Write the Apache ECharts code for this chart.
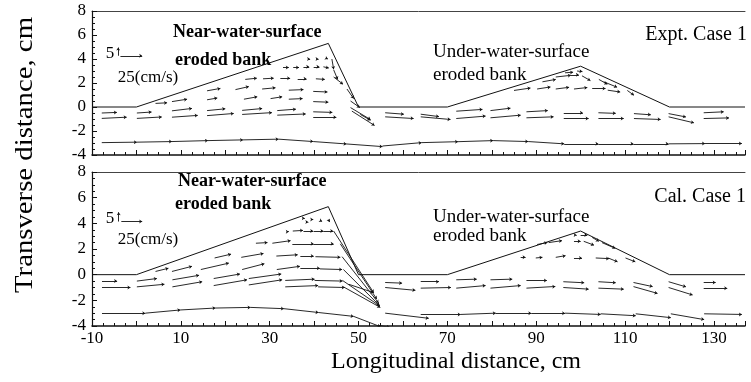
<!DOCTYPE html>
<html>
<head>
<meta charset="utf-8">
<script src="https://cdn.jsdelivr.net/npm/echarts/dist/echarts.min.js"></script>
<style>
html, body { margin: 0; padding: 0; background: #fff; }
#chart { width: 751px; height: 382px; }
</style>
</head>
<body>
<div id="chart"></div>
<script>
// bank outline (cm), same in both panels
const bankX = [-10, 0, 43.2, 50, 70, 100, 120, 137];
const bankY = [0, 0, 5.3, 0, 0, 3.4, 0, 0];

const yTicks = [-4, -2, 0, 2, 4, 6, 8];
const xTickLabels = [-10, 10, 30, 50, 70, 90, 110, 130];

// vectors: [x, y, dx, dy] in plot units (start point + arrow length)
// --- Expt. Case 1 ---
const exptNearBank = [
    [-7.8, -0.95, 5.6, 0.1], [0.1, -0.95, 5.6, 0.12], [8.0, -0.85, 5.8, 0.15], [15.9, -0.72, 6.0, 0.18],
    [23.8, -0.62, 6.7, 0.15], [31.7, -0.68, 6.4, 0.1], [39.8, -0.85, 5.2, 0.0],
    [-7.8, -0.5, 3.4, 0.05], [0.1, -0.5, 3.3, 0.08], [8.0, -0.32, 4.5, 0.2], [15.9, -0.3, 4.1, 0.15],
    [23.8, -0.28, 4.5, 0.15], [31.7, -0.3, 4.2, 0.12], [39.8, -0.4, 4.3, -0.05],
    [4.3, 0.3, 2.6, 0.05], [8.0, 0.45, 3.4, 0.2], [15.9, 0.6, 2.3, 0.15], [24.2, 0.65, 3.0, 0.2],
    [30.2, 0.7, 2.6, 0.15], [34.3, 0.65, 3.1, 0.05], [39.8, 0.45, 3.4, -0.05],
    [15.9, 1.35, 3.0, 0.2], [22.3, 1.45, 3.0, 0.25], [28.3, 1.5, 3.0, 0.1], [34.3, 1.4, 3.3, 0.05], [39.8, 1.3, 3.2, -0.05],
    [24.5, 2.3, 2.6, 0.1], [28.5, 2.35, 2.4, 0.05], [32.4, 2.4, 2.2, 0.0], [36.3, 2.35, 2.0, 0.0], [40.4, 2.35, 2.0, -0.05],
    [33.0, 3.3, 1.3, 0.0], [35.3, 3.3, 1.3, 0.0], [37.6, 3.35, 1.3, 0.0], [39.9, 3.35, 1.3, 0.0], [42.1, 3.35, 1.2, -0.1],
    [38.8, 4.0, 0.3, 0.0], [40.7, 4.0, 0.3, 0.0], [42.8, 4.05, 0.3, -0.05],
    [44.0, 4.0, 0.4, -0.85], [44.4, 3.1, 0.9, -0.8], [44.4, 2.5, 2.1, -0.6], [47.4, 1.5, 1.5, -0.8],
    [48.2, 0.5, 2.1, -0.55], [48.2, -0.05, 4.5, -1.0], [48.5, -0.34, 5.1, -1.2], [50.4, -0.62, 2.3, -0.48]
];
const exptUnderBank = [
    [56, -0.48, 4.2, -0.12], [64, -0.6, 4.1, -0.2], [72, -0.35, 5.9, 0.15], [79.7, -0.3, 4.5, 0.2], [87.8, -0.4, 4.8, 0.1],
    [96.2, -0.48, 4.3, 0.0], [104, -0.48, 3.9, -0.05], [112, -0.55, 3.8, -0.1], [119.8, -0.55, 3.9, -0.28], [127.7, -0.48, 4.5, 0.08],
    [56, -0.82, 6.4, -0.14], [64, -0.82, 6.7, -0.22], [72, -0.96, 6.6, 0.2], [79.7, -0.9, 6.8, 0.22], [87.8, -0.9, 6.1, 0.08],
    [96.2, -0.96, 5.6, 0.0], [104, -0.96, 5.7, 0.0], [112, -0.96, 6.0, -0.08], [119.8, -0.82, 5.7, -0.5], [127.7, -0.96, 5.7, 0.05],
    [85, 1.38, 3.7, 0.2], [90.2, 1.5, 3.0, 0.17], [94.4, 1.5, 3.0, 0.14], [98.5, 1.5, 3.0, 0.12], [102.6, 1.55, 3.0, 0.0],
    [106.1, 1.4, 2.8, -0.15], [110.5, 1.38, 1.5, -0.4],
    [91.4, 2.1, 3.0, 0.2], [94.4, 2.5, 3.4, 0.14], [97.8, 2.68, 1.8, 0.0], [100.3, 2.6, 1.9, -0.4],
    [104.1, 2.3, 1.9, -0.4], [105.2, 2.1, 3.0, -0.45],
    [96.5, 2.85, 1.8, 0.05], [99.2, 3.0, 1.2, -0.05]
];
const exptBottomRow = [
    [-7.8, -2.97, 7.9, 0.04], [0.1, -2.93, 7.9, 0.05], [8.0, -2.88, 8.1, 0.08], [16.1, -2.8, 7.9, 0.06],
    [24.0, -2.74, 8.0, 0.06], [32.0, -2.68, 7.8, -0.2], [39.8, -2.88, 7.5, -0.2], [47.3, -3.08, 8.1, -0.22],
    [55.4, -3.25, 8.8, 0.28], [64.2, -2.97, 8.2, 0.08], [72.4, -2.89, 7.9, 0.09], [80.3, -2.8, 7.9, -0.08],
    [88.2, -2.88, 8.1, -0.19], [96.3, -3.07, 7.7, 0.0], [104, -3.07, 7.9, 0.0], [111.9, -3.07, 7.9, 0.0],
    [119.8, -3.07, 8.2, 0.02], [128, -3.05, 8.3, 0.0]
];

// --- Cal. Case 1 ---
const calNearBank = [
    [-7.75, -0.5, 3.4, 0.0], [-7.75, -1.0, 6.4, 0.0], [0.1, -0.5, 4.5, 0.2], [0.1, -0.95, 6.2, 0.2],
    [4.3, 0.25, 2.9, 0.25], [8.0, 0.25, 4.5, 0.4], [8.1, -0.4, 6.0, 0.35], [8.1, -0.95, 6.7, 0.4],
    [17.6, 1.3, 3.7, 0.3], [14.5, 0.4, 6.3, 0.5], [17.4, -0.3, 5.9, 0.35], [17.4, -0.85, 7.5, 0.45],
    [23.6, 1.35, 5.0, 0.3], [23.8, 0.4, 5.0, 0.45], [25.3, -0.3, 7.3, 0.35], [25.3, -0.8, 7.5, 0.4],
    [26.9, 2.45, 2.6, 0.05], [30.6, 2.45, 4.1, 0.2],
    [31.5, 1.45, 4.8, 0.1], [31.6, 0.4, 5.2, 0.25], [33.5, -0.45, 6.6, 0.1], [33.5, -0.95, 7.4, 0.1],
    [34.0, 3.35, 0.3, 0.0], [35.2, 3.4, 2.3, 0.05], [37.6, 3.4, 2.2, 0.0], [39.9, 3.4, 2.2, 0.0], [42.1, 3.4, 2.2, 0.0],
    [35.1, 2.4, 4.8, 0.0], [39.9, 2.4, 4.5, 0.0], [36.9, 1.45, 3.0, 0.0], [40.3, 1.4, 5.6, -0.05],
    [36.9, 0.5, 4.4, 0.0], [41.3, 0.45, 5.0, -0.05], [40.1, -0.45, 6.3, -0.05], [40.9, -0.95, 6.0, -0.05],
    [37.6, 4.4, 0.3, 0.0], [39.5, 4.3, 0.3, 0.0], [41.5, 4.2, 0.3, -0.05], [43.2, 4.3, 0.3, -0.2], [38.5, 4.1, 0.2, 0.0],
    [44.4, 3.4, 9.0, -4.8], [45.9, 2.4, 8.2, -4.3], [46.3, 1.4, 8.2, -3.6], [46.6, 0.4, 8.1, -2.8],
    [46.4, -0.45, 8.4, -2.0], [46.6, -0.95, 8.3, -1.6], [47.8, -0.75, 5.6, -0.65]
];
const calUnderBank = [
    [56, -0.61, 3.8, -0.05], [64, -0.55, 4.1, 0.0], [72, -0.4, 4.6, 0.05], [79.7, -0.4, 4.9, 0.05], [87.8, -0.45, 4.6, 0.0],
    [96.1, -0.55, 4.7, -0.08], [104, -0.55, 3.9, -0.08], [111.9, -0.61, 4.3, -0.32], [119.8, -0.55, 3.9, -0.4], [127.7, -0.61, 2.7, 0.0],
    [56, -1.0, 6.8, -0.22], [64, -1.05, 6.8, 0.05], [72, -1.05, 6.6, 0.2], [79.7, -1.05, 6.8, 0.2], [87.8, -1.05, 6.5, 0.13],
    [96.1, -1.0, 5.7, -0.13], [104, -1.05, 5.7, -0.08], [111.9, -0.93, 5.4, -0.53], [119.8, -1.0, 5.4, -0.58], [127.7, -1.05, 5.3, 0.0],
    [86.5, 1.35, 1.1, 0.0], [89.9, 1.3, 1.5, 0.05], [94.4, 1.35, 2.2, 0.13], [98.5, 1.3, 1.8, 0.0], [103.4, 1.3, 3.0, -0.05],
    [106.2, 1.3, 2.1, -0.3], [110.1, 1.3, 2.2, -0.3],
    [90.2, 2.35, 2.3, 0.15], [92.8, 2.5, 3.0, 0.15], [98.5, 2.6, 1.5, 0.0], [100.7, 2.6, 2.3, -0.3], [104.8, 2.5, 3.0, -0.45],
    [98.9, 3.1, 0.2, 0.0], [100.0, 3.1, 1.5, 0.0], [102.6, 2.9, 1.5, -0.3]
];
const calBottomRow = [
    [-7.75, -3.0, 9.75, 0.0], [2.0, -3.0, 7.9, 0.25], [9.9, -2.75, 7.9, 0.15], [17.8, -2.6, 7.9, 0.05],
    [25.7, -2.55, 7.5, -0.1], [33.2, -2.65, 7.8, -0.3], [41.0, -2.95, 7.9, -0.3], [48.9, -3.25, 6.0, -0.8],
    [54.5, -3.95, 2.5, -0.15],
    [56, -3.0, 9.8, -0.4], [64, -3.1, 9.0, 0.0], [73, -3.1, 7.9, 0.1], [80.9, -3.0, 8.0, 0.0], [88.9, -3.0, 7.6, 0.0],
    [96.5, -3.0, 8.0, -0.1], [104.5, -3.05, 7.9, -0.15], [112.4, -3.05, 7.9, -0.3], [120.3, -3.05, 7.5, -0.45],
    [127.8, -3.05, 8.5, -0.05]
];

// reference arrows of the key (25 cm/s along x, 5 cm/s across)
const exptScale = [[-3.6, 4.27, 4.9, 0.0], [-4.1, 4.27, 0.0, 0.68]];
const calScale = [[-3.4, 4.14, 4.7, 0.0], [-4.0, 4.14, 0.0, 0.72]];

const SERIF = '"Liberation Serif", "DejaVu Serif", serif';
const INK = '#111';

function toLines(vecs) {
    return vecs.map(v => ({ coords: [[v[0], v[1]], [v[0] + v[2], v[1] + v[3]]] }));
}

function vectorSeries(vecs, gi) {
    return {
        type: 'lines',
        coordinateSystem: 'cartesian2d',
        xAxisIndex: gi,
        yAxisIndex: gi,
        data: toLines(vecs),
        symbol: ['none', 'arrow'],
        symbolSize: 3,
        silent: true,
        lineStyle: { color: INK, width: 0.9, opacity: 1, curveness: 0 }
    };
}

function bankSeries(gi) {
    return {
        type: 'line',
        xAxisIndex: gi,
        yAxisIndex: gi,
        data: bankX.map((x, i) => [x, bankY[i]]),
        showSymbol: false,
        silent: true,
        lineStyle: { color: INK, width: 1 }
    };
}

function xAxis(gi, showLabels) {
    return {
        type: 'value',
        gridIndex: gi,
        position: 'bottom',
        min: -10,
        max: 137,
        interval: 10,
        axisLine: { onZero: false, lineStyle: { color: INK, width: 1.5 } },
        axisTick: { inside: true, length: 5, lineStyle: { color: INK } },
        minorTick: { show: true, splitNumber: 4, length: 3, lineStyle: { color: INK } },
        splitLine: { show: false },
        axisLabel: {
            show: showLabels,
            margin: 4,
            color: '#000',
            fontFamily: SERIF,
            fontSize: 17,
            formatter: v => (xTickLabels.indexOf(v) >= 0 ? String(v) : '')
        }
    };
}

function topBorder(gi) {
    return {
        type: 'value',
        gridIndex: gi,
        position: 'top',
        min: -10,
        max: 137,
        axisLine: { onZero: false, lineStyle: { color: '#444', width: 1 } },
        axisTick: { show: false },
        axisLabel: { show: false },
        splitLine: { show: false }
    };
}

function yAxis(gi) {
    return {
        type: 'value',
        gridIndex: gi,
        position: 'left',
        min: yTicks[0],
        max: yTicks[yTicks.length - 1],
        interval: 2,
        axisLine: { onZero: false, lineStyle: { color: INK, width: 1.2 } },
        axisTick: { inside: true, length: 5, lineStyle: { color: INK } },
        minorTick: { show: true, splitNumber: 4, length: 3, lineStyle: { color: INK } },
        splitLine: { show: false },
        axisLabel: { margin: 6, color: '#000', fontFamily: SERIF, fontSize: 17 }
    };
}

function label(text, x, y, size, weight, align) {
    return {
        type: 'text',
        x: x,
        y: y,
        silent: true,
        style: {
            text: text,
            font: (weight || 'normal') + ' ' + size + 'px ' + SERIF,
            fill: '#000',
            align: align || 'left',
            verticalAlign: 'middle'
        }
    };
}

const option = {
    animation: false,
    backgroundColor: '#fff',
    grid: [
        { left: 92, right: 6, top: 11, height: 144 },
        { left: 92, right: 6, top: 172, height: 154 }
    ],
    xAxis: [xAxis(0, false), xAxis(1, true), topBorder(0), topBorder(1)],
    yAxis: [yAxis(0), yAxis(1)],
    series: [
        bankSeries(0),
        vectorSeries(exptNearBank, 0),
        vectorSeries(exptUnderBank, 0),
        vectorSeries(exptBottomRow, 0),
        vectorSeries(exptScale, 0),
        bankSeries(1),
        vectorSeries(calNearBank, 1),
        vectorSeries(calUnderBank, 1),
        vectorSeries(calBottomRow, 1),
        vectorSeries(calScale, 1)
    ],
    graphic: [
        // top panel
        label('Near-water-surface', 173, 32, 18, 'bold'),
        label('eroded bank', 175, 60, 18, 'bold'),
        label('Under-water-surface', 433, 52, 19),
        label('eroded bank', 433, 75, 19),
        label('Expt. Case 1', 747, 35, 20, 'normal', 'right'),
        label('5', 110, 54, 17, 'normal', 'center'),
        label('25(cm/s)', 148, 78, 17, 'normal', 'center'),
        // bottom panel
        label('Near-water-surface', 178, 181, 18, 'bold'),
        label('eroded bank', 175, 204, 18, 'bold'),
        label('Under-water-surface', 433, 217, 19),
        label('eroded bank', 433, 236, 19),
        label('Cal. Case 1', 746, 197, 20, 'normal', 'right'),
        label('5', 110, 219, 17, 'normal', 'center'),
        label('25(cm/s)', 148, 240, 17, 'normal', 'center'),
        // axis titles
        label('Longitudinal distance, cm', 456, 362, 24, 'normal', 'center'),
        {
            type: 'text',
            x: 25,
            y: 155,
            rotation: Math.PI / 2,
            scaleX: 1.15,
            silent: true,
            style: {
                text: 'Transverse distance, cm',
                font: 'normal 25px ' + SERIF,
                fill: '#000',
                align: 'center',
                verticalAlign: 'middle'
            }
        }
    ]
};

const chart = echarts.init(document.getElementById('chart'), null, { renderer: 'canvas' });
chart.setOption(option);
</script>
</body>
</html>
